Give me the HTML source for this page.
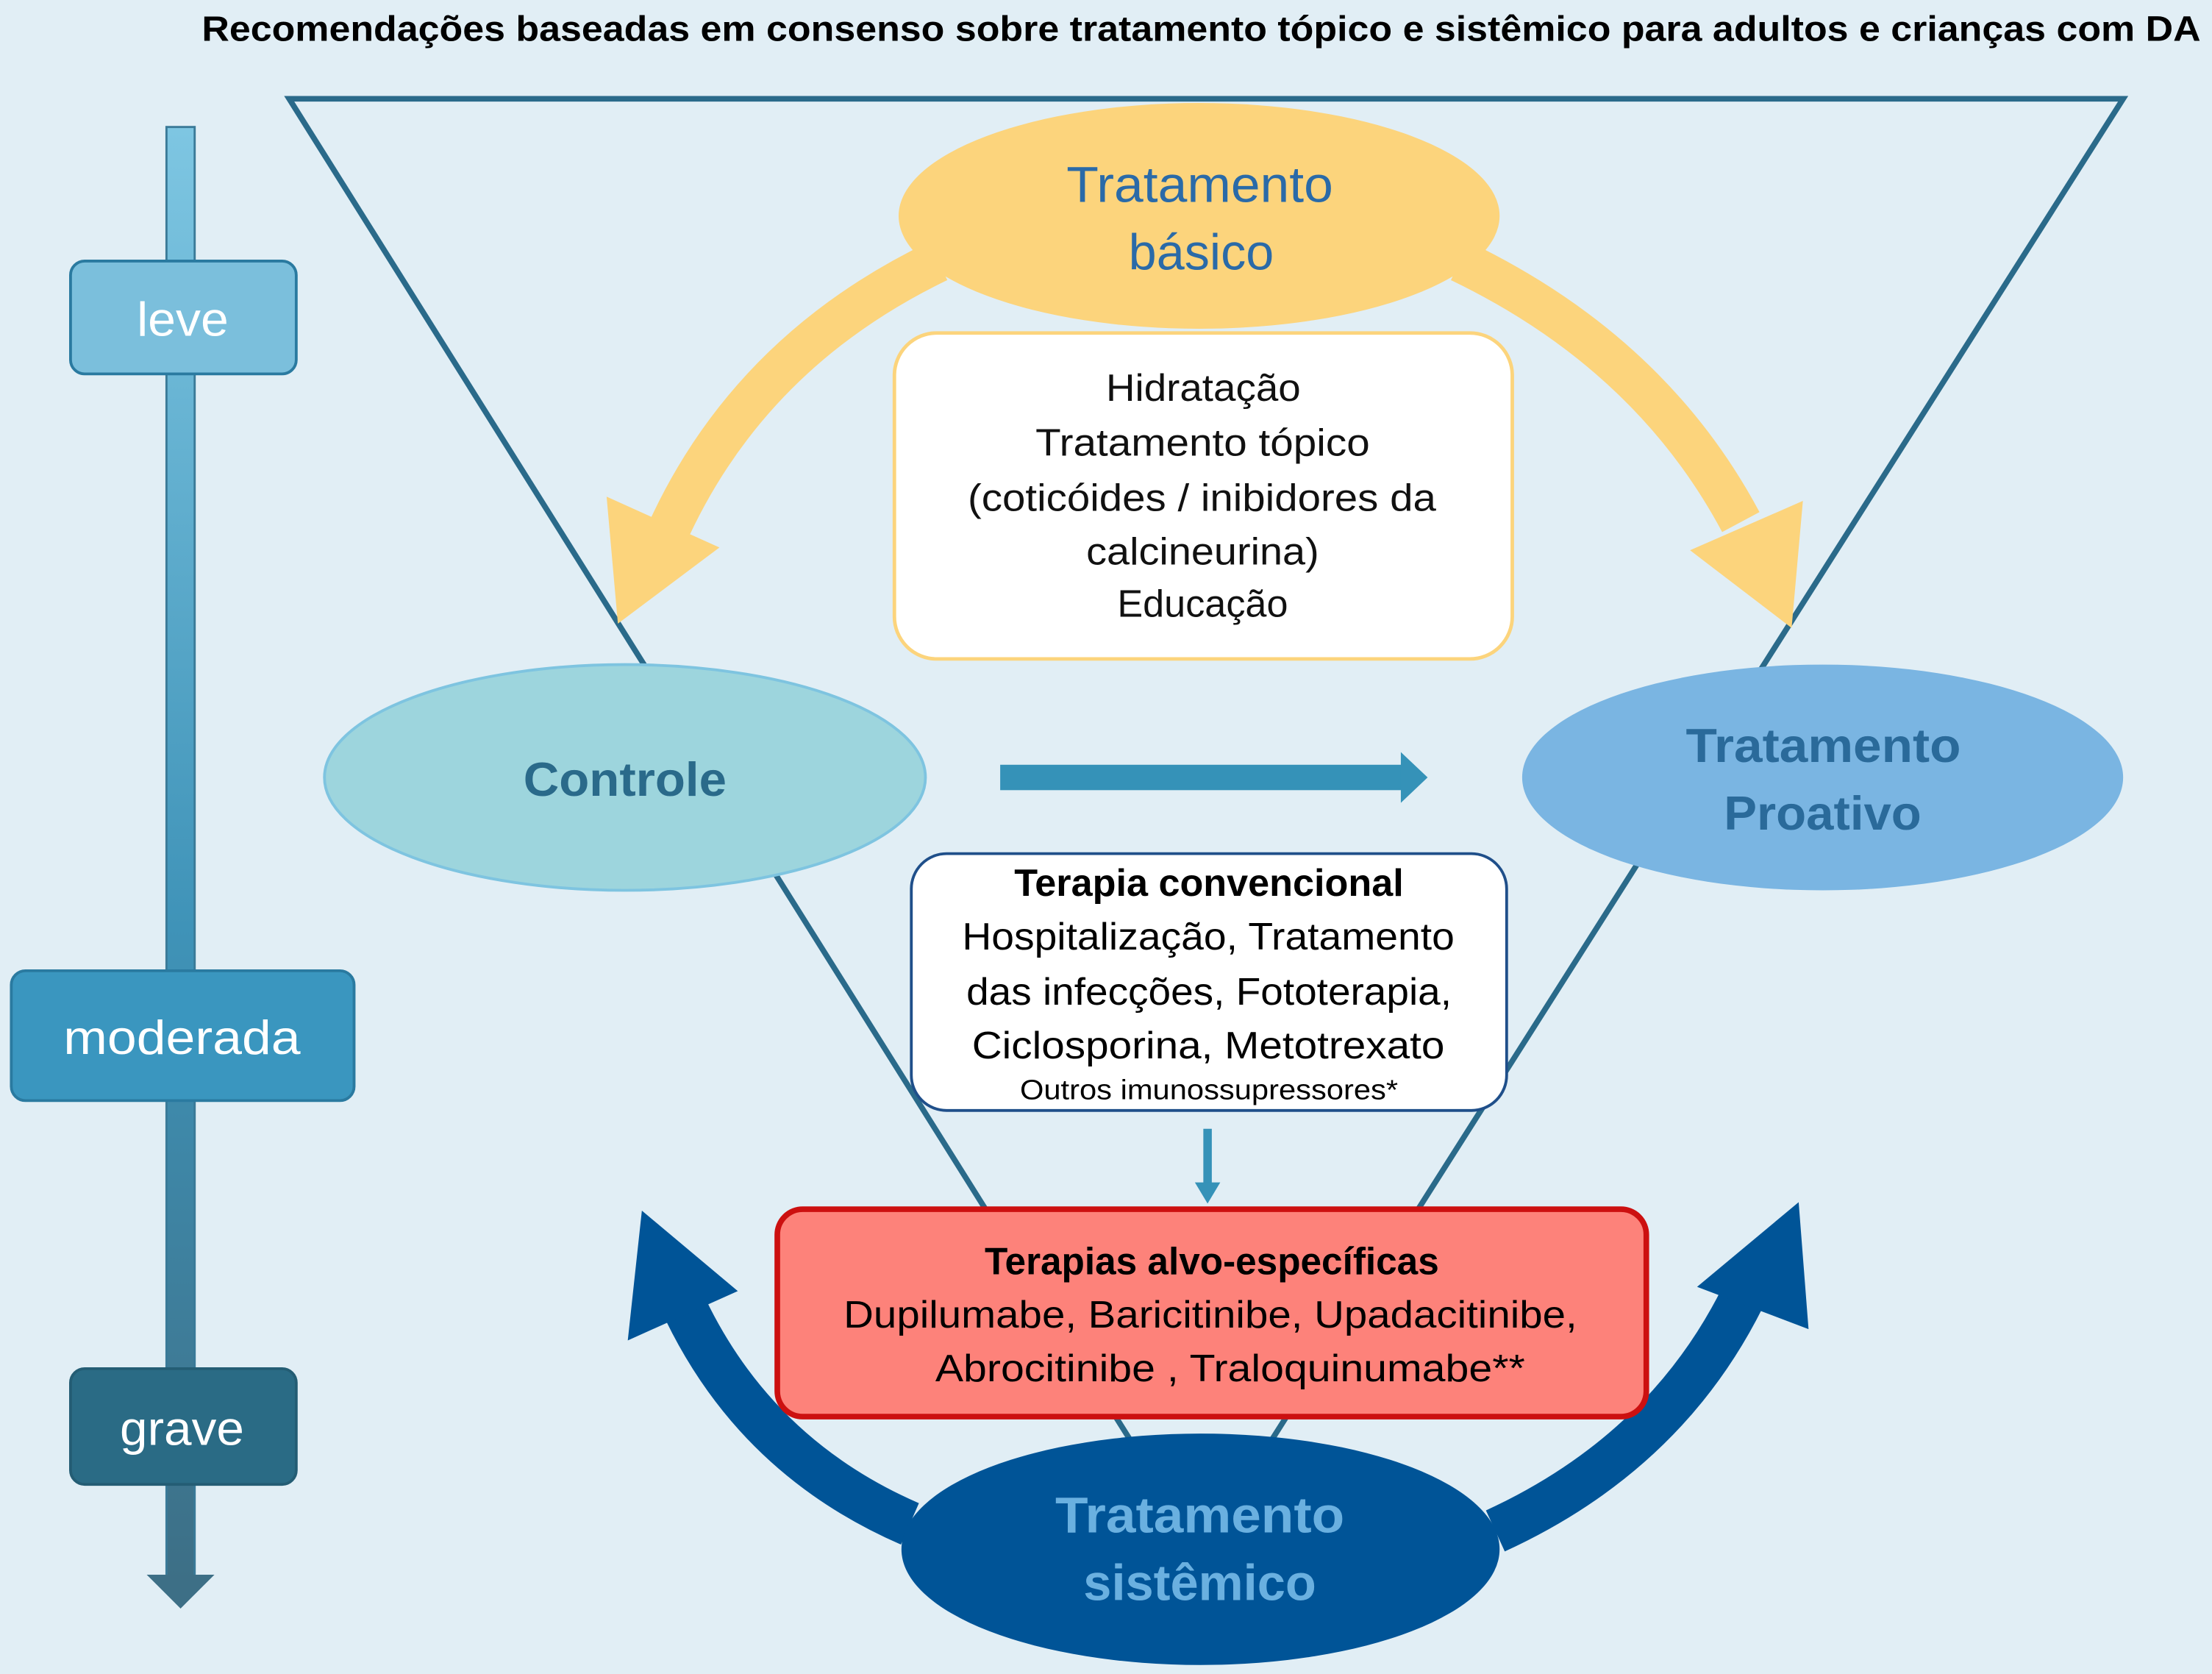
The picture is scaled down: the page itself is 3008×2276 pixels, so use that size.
<!DOCTYPE html>
<html><head><meta charset="utf-8"><style>
html,body{margin:0;padding:0;background:#e1eef5}
svg{display:block}
text{font-family:"Liberation Sans","DejaVu Sans",sans-serif}
</style></head><body>
<svg width="3008" height="2276" viewBox="0 0 1568 1186.4" preserveAspectRatio="none" xmlns="http://www.w3.org/2000/svg">
<defs>
<linearGradient id="g" x1="0" y1="0" x2="0" y2="1">
<stop offset="0" stop-color="#7ec6e2"/><stop offset="0.55" stop-color="#3f93b8"/><stop offset="1" stop-color="#3d6f86"/>
</linearGradient>
</defs>
<rect width="1568" height="1186.4" fill="#e1eef5"/>
<text x="143" y="29" font-size="25" font-weight="bold" fill="#000" textLength="1417" lengthAdjust="spacingAndGlyphs">Recomendações baseadas em consenso sobre tratamento tópico e sistêmico para adultos e crianças com DA</text>

<polygon points="205,70 1505,70 851,1100" fill="none" stroke="#2a6a8a" stroke-width="4"/>

<rect x="118" y="90" width="20" height="1030" fill="url(#g)" stroke="#3a7a98" stroke-width="1.5"/>
<polygon points="104,1116 152,1116 128,1140" fill="#3d6f86"/>
<rect x="50" y="185" width="160" height="80" rx="10" fill="#7bbfdc" stroke="#2a7aa0" stroke-width="2"/>
<text x="97" y="238" font-size="34" fill="#fff" textLength="65" lengthAdjust="spacingAndGlyphs">leve</text>
<rect x="8" y="688" width="243" height="92" rx="10" fill="#3a96bf" stroke="#2a7aa0" stroke-width="2"/>
<text x="45" y="747" font-size="34" fill="#fff" textLength="168" lengthAdjust="spacingAndGlyphs">moderada</text>
<rect x="50" y="970" width="160" height="82" rx="10" fill="#2a6b85" stroke="#245d74" stroke-width="2"/>
<text x="85" y="1024" font-size="34" fill="#fff" textLength="88" lengthAdjust="spacingAndGlyphs">grave</text>

<path d="M665,185 Q530,250 472,380" fill="none" stroke="#fcd47c" stroke-width="30"/>
<polygon points="438,442 430,352 510,388" fill="#fcd47c"/>
<path d="M1035,185 Q1170,250 1234,370" fill="none" stroke="#fcd47c" stroke-width="30"/>
<polygon points="1270,445 1278,355 1198,390" fill="#fcd47c"/>

<ellipse cx="850" cy="153" rx="213" ry="80" fill="#fcd47c"/>
<text x="756" y="143" font-size="36" fill="#2a6aa8" textLength="189" lengthAdjust="spacingAndGlyphs">Tratamento</text>
<text x="800" y="191" font-size="36" fill="#2a6aa8" textLength="103" lengthAdjust="spacingAndGlyphs">básico</text>

<rect x="634" y="236" width="438" height="231" rx="30" fill="#fff" stroke="#fcd47c" stroke-width="2.5"/>
<g font-size="27" fill="#111">
<text x="784" y="284" textLength="138" lengthAdjust="spacingAndGlyphs">Hidratação</text>
<text x="734" y="323" textLength="237" lengthAdjust="spacingAndGlyphs">Tratamento tópico</text>
<text x="686" y="362" textLength="332" lengthAdjust="spacingAndGlyphs">(coticóides / inibidores da</text>
<text x="770" y="400" textLength="165" lengthAdjust="spacingAndGlyphs">calcineurina)</text>
<text x="792" y="437" textLength="121" lengthAdjust="spacingAndGlyphs">Educação</text>
</g>

<path d="M645,1080 Q530,1030 480,915" fill="none" stroke="#005497" stroke-width="32"/>
<polygon points="455,858 445,950 523,915" fill="#005497"/>
<path d="M1060,1085 Q1180,1030 1235,920" fill="none" stroke="#005497" stroke-width="32"/>
<polygon points="1275,852 1282,942 1203,912" fill="#005497"/>

<ellipse cx="443" cy="551" rx="213" ry="80" fill="#9dd5dd" stroke="#7ec4e0" stroke-width="2"/>
<text x="371" y="564" font-size="34" font-weight="bold" fill="#2a6a8a" textLength="144" lengthAdjust="spacingAndGlyphs">Controle</text>
<ellipse cx="1292" cy="551" rx="213" ry="80" fill="#7ab5e2"/>
<text x="1195" y="540" font-size="34" font-weight="bold" fill="#2a6a9a" textLength="195" lengthAdjust="spacingAndGlyphs">Tratamento</text>
<text x="1222" y="588" font-size="34" font-weight="bold" fill="#2a6a9a" textLength="140" lengthAdjust="spacingAndGlyphs">Proativo</text>

<rect x="709" y="542" width="286" height="18" fill="#3592b8"/>
<polygon points="993,533 1012,551 993,569" fill="#3592b8"/>

<rect x="646" y="605" width="422" height="182" rx="25" fill="#fff" stroke="#1f4f8a" stroke-width="2"/>
<g fill="#000">
<text x="719" y="635" font-size="27" font-weight="bold" textLength="276" lengthAdjust="spacingAndGlyphs">Terapia convencional</text>
<text x="682" y="673" font-size="27" textLength="349" lengthAdjust="spacingAndGlyphs">Hospitalização, Tratamento</text>
<text x="685" y="712" font-size="27" textLength="344" lengthAdjust="spacingAndGlyphs">das infecções, Fototerapia,</text>
<text x="689" y="750" font-size="27" textLength="335" lengthAdjust="spacingAndGlyphs">Ciclosporina, Metotrexato</text>
<text x="723" y="779" font-size="20" textLength="268" lengthAdjust="spacingAndGlyphs">Outros imunossupressores*</text>
</g>
<rect x="853" y="800" width="6" height="40" fill="#3592b8"/>
<polygon points="847,838 865,838 856,853" fill="#3592b8"/>

<rect x="551" y="857" width="616" height="147" rx="18" fill="#fd827a" stroke="#cc1010" stroke-width="4"/>
<g fill="#000">
<text x="698" y="903" font-size="27" font-weight="bold" textLength="322" lengthAdjust="spacingAndGlyphs">Terapias alvo-específicas</text>
<text x="598" y="941" font-size="27" textLength="520" lengthAdjust="spacingAndGlyphs">Dupilumabe, Baricitinibe, Upadacitinibe,</text>
<text x="663" y="979" font-size="27" textLength="418" lengthAdjust="spacingAndGlyphs">Abrocitinibe , Traloquinumabe**</text>
</g>

<ellipse cx="851" cy="1098" rx="212" ry="82" fill="#005497"/>
<text x="748" y="1086" font-size="36" font-weight="bold" fill="#6ab0e0" textLength="205" lengthAdjust="spacingAndGlyphs">Tratamento</text>
<text x="768" y="1134" font-size="36" font-weight="bold" fill="#6ab0e0" textLength="165" lengthAdjust="spacingAndGlyphs">sistêmico</text>
</svg>
</body></html>
